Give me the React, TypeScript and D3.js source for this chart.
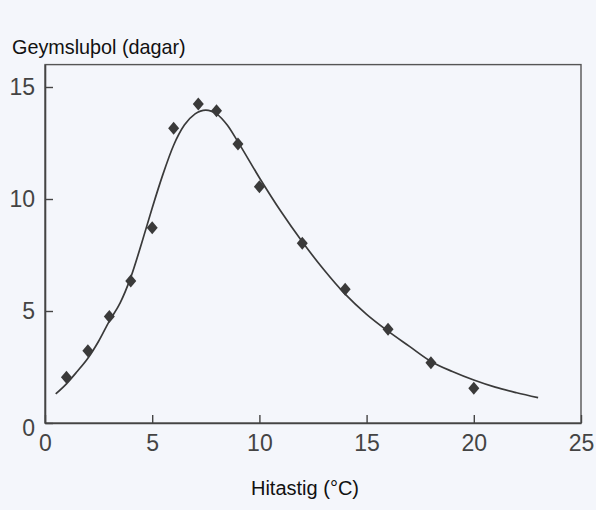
import React, { useEffect, useRef } from "react";
import * as d3 from "d3";

// measured storage life (days) per temperature
const obsTemp = [1, 2, 3, 4, 5, 6, 7.15, 8, 9, 10, 12, 14, 16, 18, 20];
const obsDays = [2.04, 3.23, 4.75, 6.34, 8.72, 13.16, 14.24, 13.94, 12.46, 10.55, 8.02, 5.97, 4.18, 2.69, 1.55];

// fitted curve
const fitTemp = [0.5, 1, 1.5, 2, 2.5, 3, 3.5, 4, 4.5, 5, 5.5, 6, 6.5, 7, 7.5, 8, 8.5, 9, 10, 11, 12, 13, 14, 15, 16, 17, 18, 19, 20, 21, 22, 23];
const fitDays = [1.3, 1.75, 2.3, 2.89, 3.65, 4.55, 5.35, 6.5, 8.0, 9.6, 11.1, 12.4, 13.3, 13.8, 13.97, 13.8, 13.3, 12.55, 10.95, 9.45, 8.09, 6.85, 5.75, 4.85, 4.1, 3.42, 2.75, 2.3, 1.92, 1.6, 1.35, 1.13];

const xTicks = [0, 5, 10, 15, 20, 25];
const yTicks = [0, 5, 10, 15];

const W = 596;
const H = 510;

export default function App() {
  const ref = useRef<SVGSVGElement>(null);

  useEffect(() => {
    document.body.style.margin = "0";
    const svg = d3.select(ref.current);
    svg.selectAll("*").remove();

    const x = d3.scaleLinear().domain([0, 25]).range([45, 581]);
    const y = d3.scaleLinear().domain([0, 16]).range([423, 64.6]);
    const font = "'Liberation Sans', Arial, sans-serif";

    svg.append("rect").attr("width", W).attr("height", H).attr("fill", "#f4f6fb");

    // frame
    svg.append("rect")
      .attr("x", x(0)).attr("y", y(16))
      .attr("width", x(25) - x(0)).attr("height", y(0) - y(16))
      .attr("fill", "none").attr("stroke", "#555").attr("stroke-width", 1.4);

    const xAxis = svg.append("g")
      .attr("transform", `translate(0,${y(0)})`)
      .call(d3.axisBottom(x).tickValues(xTicks).tickSizeInner(-8).tickSizeOuter(0).tickPadding(12));
    const yAxis = svg.append("g")
      .attr("transform", `translate(${x(0)},0)`)
      .call(d3.axisLeft(y).tickValues(yTicks).tickSizeInner(-8).tickSizeOuter(0).tickPadding(10));

    [xAxis, yAxis].forEach(g => {
      g.select(".domain").attr("stroke", "#444").attr("stroke-width", 1.6);
      g.selectAll(".tick line").attr("stroke", "#444").attr("stroke-width", 1.4);
      g.selectAll(".tick text")
        .attr("fill", "#444").attr("font-size", 23).attr("font-family", font);
    });
    yAxis.selectAll(".tick text").filter((d: any) => d === 0).attr("dy", "0.55em");

    const line = d3.line<number>()
      .x((d, i) => x(fitTemp[i]))
      .y(d => y(d))
      .curve(d3.curveMonotoneX);

    svg.append("path")
      .datum(fitDays)
      .attr("d", line)
      .attr("fill", "none")
      .attr("stroke", "#3a3a3a")
      .attr("stroke-width", 1.7);

    svg.append("g")
      .selectAll("path")
      .data(obsDays)
      .join("path")
        .attr("transform", (d, i) => `translate(${x(obsTemp[i])},${y(d)})`)
        .attr("d", "M0,-6.5L5.5,0L0,6.5L-5.5,0Z")
        .attr("fill", "#3a3a3a");

    svg.append("text")
      .attr("x", 12).attr("y", 54)
      .attr("font-family", font).attr("font-size", 19.8).attr("fill", "#111")
      .text("Geymsluþol (dagar)");

    svg.append("text")
      .attr("x", 305).attr("y", 495)
      .attr("text-anchor", "middle")
      .attr("font-family", font).attr("font-size", 20).attr("fill", "#111")
      .text("Hitastig (°C)");
  }, []);

  return <svg ref={ref} width={W} height={H} style={{ display: "block" }} />;
}
